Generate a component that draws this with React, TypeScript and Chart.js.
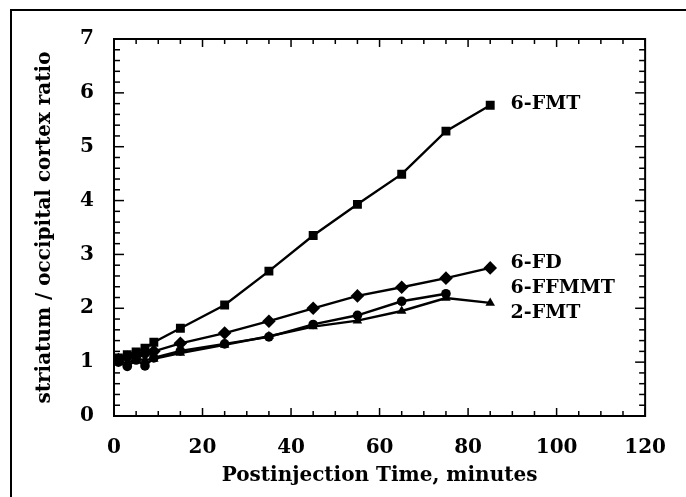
import React, { useEffect, useRef } from "react";
import { Chart, registerables } from "chart.js";

Chart.register(...registerables);

// ---- data ----
const times = [1, 3, 5, 7, 9, 15, 25, 35, 45, 55, 65, 75, 85];
const fmt6 = [1.08, 1.14, 1.19, 1.26, 1.37, 1.63, 2.06, 2.69, 3.35, 3.93, 4.49, 5.29, 5.77];
const fd6 = [1.05, 1.09, 1.12, 1.16, 1.2, 1.35, 1.54, 1.76, 2.0, 2.23, 2.39, 2.56, 2.75];
const ffmmt6 = [1.0, 0.92, 1.04, 0.93, 1.08, 1.21, 1.34, 1.47, 1.7, 1.87, 2.13, 2.27];
const fmt2 = [1.02, 0.98, 1.06, 1.04, 1.06, 1.17, 1.32, 1.48, 1.66, 1.77, 1.95, 2.19, 2.1];
const seriesNames = ["6-FMT", "6-FD", "6-FFMMT", "2-FMT"];
const seriesMarkers = ["rect", "rectRot", "circle", "triangle"];
const labelAtX = 89.6;
const labelAtY = [5.79, 2.84, 2.37, 1.91];

const xMin = 0;
const xMax = 120;
const xStep = 20;
const yMin = 0;
const yMax = 7;
const yStep = 1;

const xTitle = "Postinjection Time, minutes";
const yTitle = "striatum / occipital cortex ratio";

const FONT = "'DejaVu Serif', serif";

const decorPlugin = {
  id: "decor",
  afterDraw(chart: any) {
    const { ctx, chartArea: a, scales } = chart;
    const xs = scales.x;
    const ys = scales.y;
    ctx.save();
    ctx.strokeStyle = "#000";
    ctx.lineCap = "butt";
    // outer frame (left + top)
    ctx.lineWidth = 2;
    ctx.beginPath();
    ctx.moveTo(11, chart.height);
    ctx.lineTo(11, 10);
    ctx.lineTo(chart.width, 10);
    ctx.stroke();
    // plot box
    ctx.strokeRect(a.left, a.top, a.right - a.left, a.bottom - a.top);
    // ticks
    ctx.lineWidth = 1.5;
    const seg = (x1: number, y1: number, x2: number, y2: number) => {
      ctx.beginPath();
      ctx.moveTo(x1, y1);
      ctx.lineTo(x2, y2);
      ctx.stroke();
    };
    for (let i = 0; i <= 24; i++) {
      const v = i * 5;
      const px = xs.getPixelForValue(v);
      const len = i % 4 === 0 ? 8 : 5;
      seg(px, a.bottom, px, a.bottom - len);
      seg(px, a.top, px, a.top + len);
    }
    for (let i = 0; i <= 35; i++) {
      const v = i * 0.2;
      const py = ys.getPixelForValue(v);
      const len = i % 5 === 0 ? 10 : 6;
      seg(a.left, py, a.left + len, py);
      seg(a.right, py, a.right - len, py);
    }
    // series labels
    ctx.fillStyle = "#000";
    ctx.font = `bold 19px ${FONT}`;
    ctx.textAlign = "left";
    ctx.textBaseline = "middle";
    seriesNames.forEach((n, i) => {
      ctx.fillText(n, xs.getPixelForValue(labelAtX), ys.getPixelForValue(labelAtY[i]));
    });
    ctx.restore();
  },
};

export default function App() {
  const ref = useRef<HTMLCanvasElement | null>(null);
  useEffect(() => {
    if (!ref.current) return;
    const allSeries = [fmt6, fd6, ffmmt6, fmt2];
    const datasets = allSeries.map((vals, i) => ({
      label: seriesNames[i],
      data: vals.map((v, j) => ({ x: times[j], y: v })),
      borderColor: "#000",
      backgroundColor: "#000",
      borderWidth: 2.4,
      pointStyle: seriesMarkers[i] as any,
      pointRadius: [6.3, 6.8, 4.8, 5.5][i],
      pointBorderWidth: 0,
      pointBackgroundColor: "#000",
      fill: false,
      tension: 0,
    }));
    const chart = new Chart(ref.current, {
      type: "line",
      data: { datasets },
      options: {
        animation: false,
        responsive: false,
        devicePixelRatio: 1,
        layout: { padding: { top: 39, right: 38, left: 0, bottom: 0 } },
        plugins: { legend: { display: false }, tooltip: { enabled: false } },
        scales: {
          x: {
            type: "linear",
            min: xMin,
            max: xMax,
            grid: { display: false, drawTicks: false },
            border: { display: false },
            ticks: {
              stepSize: xStep,
              padding: 20,
              color: "#000",
              font: { family: FONT, size: 20, weight: "bold" },
              maxRotation: 0,
            },
            title: {
              display: true,
              text: xTitle,
              color: "#000",
              font: { family: FONT, size: 20, weight: "bold" },
              padding: { top: 0, bottom: 9 },
            },
            afterFit: (s: any) => {
              s.height = 81;
            },
          },
          y: {
            type: "linear",
            min: yMin,
            max: yMax,
            grid: { display: false, drawTicks: false },
            border: { display: false },
            ticks: {
              stepSize: yStep,
              padding: 20,
              color: "#000",
              font: { family: FONT, size: 20, weight: "bold" },
            },
            title: {
              display: true,
              text: yTitle,
              color: "#000",
              font: { family: FONT, size: 20, weight: "bold" },
              padding: { top: 33, bottom: 0 },
            },
            afterFit: (s: any) => {
              s.width = 114;
            },
          },
        },
      },
      plugins: [decorPlugin],
    });
    return () => chart.destroy();
  }, []);
  return (
    <div style={{ position: "absolute", left: 0, top: 0, width: 686, height: 497, background: "#fff" }}>
      <canvas ref={ref} width={686} height={497} />
    </div>
  );
}
